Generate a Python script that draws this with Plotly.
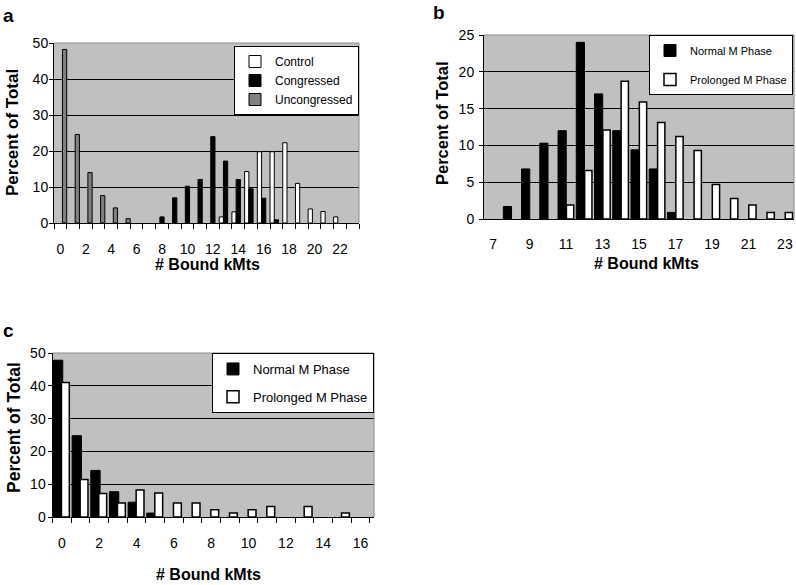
import plotly.graph_objects as go

# ---------------- data ----------------
# Panel a
a_control_bins = [13, 14, 15, 16, 17, 18, 19, 20, 21, 22]
a_control_pct = [1.7, 3.1, 14.3, 19.8, 19.8, 22.3, 11.0, 3.9, 3.2, 1.7]
a_congressed_bins = [8, 9, 10, 11, 12, 13, 14, 15, 16, 17]
a_congressed_pct = [1.7, 7.0, 10.2, 12.1, 24.0, 17.2, 12.1, 9.5, 6.9, 0.9]
a_uncongressed_bins = [0, 1, 2, 3, 4, 5]
a_uncongressed_pct = [48.2, 24.6, 14.0, 7.6, 4.2, 1.2]
a_ticks = list(range(0, 23, 2))

# Panel b
b_normal_bins = [8, 9, 10, 11, 12, 13, 14, 15, 16, 17]
b_normal_pct = [1.7, 6.8, 10.3, 12.0, 24.0, 17.0, 12.0, 9.4, 6.8, 0.9]
b_prolonged_bins = [11, 12, 13, 14, 15, 16, 17, 18, 19, 20, 21, 22, 23]
b_prolonged_pct = [1.9, 6.6, 12.1, 18.7, 15.9, 13.1, 11.2, 9.3, 4.7, 2.8, 1.9, 0.9, 0.9]
b_ticks = list(range(7, 24, 2))

# Panel c
c_normal_bins = [0, 1, 2, 3, 4, 5]
c_normal_pct = [47.8, 24.8, 14.2, 7.7, 4.5, 1.2]
c_prolonged_bins = [0, 1, 2, 3, 4, 5, 6, 7, 8, 9, 10, 11, 13, 15]
c_prolonged_pct = [41.0, 11.4, 7.2, 4.3, 8.2, 7.3, 4.3, 4.3, 2.2, 1.2, 2.2, 3.2, 3.2, 1.2]
c_ticks = list(range(0, 17, 2))

# ---------------- figure ----------------
FONT = "Liberation Sans, Arial, sans-serif"
BLACK = "#000000"
GRAYBAR = "#808080"
BG = "#c0c0c0"
W, H = 796, 585

def px(x):
    return x / W

def py(y):
    return 1 - y / H

fig = go.Figure()

line = dict(color=BLACK, width=1)

# panel a
fig.add_trace(go.Bar(x=a_control_bins, y=a_control_pct, name="Control",
                     marker=dict(color="white", line=line), offset=-0.5, width=1/3,
                     xaxis="x", yaxis="y", legend="legend"))
fig.add_trace(go.Bar(x=a_congressed_bins, y=a_congressed_pct, name="Congressed",
                     marker=dict(color=BLACK, line=line), offset=-1/6, width=1/3,
                     xaxis="x", yaxis="y", legend="legend"))
fig.add_trace(go.Bar(x=a_uncongressed_bins, y=a_uncongressed_pct, name="Uncongressed",
                     marker=dict(color=GRAYBAR, line=line), offset=1/6, width=1/3,
                     xaxis="x", yaxis="y", legend="legend"))

# panel b
fig.add_trace(go.Bar(x=b_normal_bins, y=b_normal_pct, name="Normal M Phase",
                     marker=dict(color=BLACK, line=line), offset=-0.44, width=0.45,
                     xaxis="x2", yaxis="y2", legend="legend2", legendgroup="bn"))
fig.add_trace(go.Bar(x=b_prolonged_bins, y=b_prolonged_pct, name="Prolonged M Phase",
                     marker=dict(color="white", line=dict(color=BLACK, width=1.5)), offset=0.02, width=0.4,
                     xaxis="x2", yaxis="y2", legend="legend2", legendgroup="bp"))

# panel c
fig.add_trace(go.Bar(x=c_normal_bins, y=c_normal_pct, name="Normal M Phase",
                     marker=dict(color=BLACK, line=line), offset=-0.45, width=0.5,
                     xaxis="x3", yaxis="y3", legend="legend3", legendgroup="cn"))
fig.add_trace(go.Bar(x=c_prolonged_bins, y=c_prolonged_pct, name="Prolonged M Phase",
                     marker=dict(color="white", line=dict(color=BLACK, width=1.5)), offset=-0.02, width=0.42,
                     xaxis="x3", yaxis="y3", legend="legend3", legendgroup="cp"))

tickfont = dict(family=FONT, size=14, color=BLACK)

def xaxis(domain, anchor, rng, tickvals, minor_vals, standoff):
    d = dict(domain=domain, anchor=anchor, range=rng, tickvals=tickvals,
             ticks="", showgrid=False, zeroline=False, showline=True,
             linecolor=BLACK, linewidth=1, tickfont=tickfont, fixedrange=True,
             ticklabelstandoff=standoff, automargin=False)
    if minor_vals is not None:
        d["minor"] = dict(tickvals=minor_vals, ticks="outside", ticklen=5,
                          tickcolor=BLACK, tickwidth=1, showgrid=False)
    return d

def yaxis(domain, anchor, rng, dtick, standoff):
    return dict(domain=domain, anchor=anchor, range=rng, dtick=dtick, tick0=0,
                ticks="outside", ticklen=4, tickcolor=BLACK, showgrid=True,
                gridcolor=BLACK, gridwidth=1, zeroline=False, showline=True,
                linecolor=BLACK, linewidth=1, tickfont=tickfont, fixedrange=True,
                ticklabelstandoff=standoff, automargin=False)

# geometry (pixels)
A = dict(l=54, r=359, t=43, b=223)
B = dict(l=484, r=794, t=35, b=219)
C = dict(l=52.5, r=374, t=353, b=517)

fig.update_layout(
    template="none",
    width=W, height=H,
    margin=dict(l=0, r=0, t=0, b=0, autoexpand=False),
    paper_bgcolor="white", plot_bgcolor=BG,
    barmode="overlay",
    font=dict(family=FONT, color=BLACK),
    xaxis=xaxis([px(A["l"]), px(A["r"])], "y", [-0.5, 23.5], a_ticks,
                [i - 0.5 for i in range(0, 25)], 13),
    yaxis=yaxis([py(A["b"]), py(A["t"])], "x", [0, 50], 10, -2),
    xaxis2=xaxis([px(B["l"]), px(B["r"])], "y2", [6.5, 23.5], b_ticks, None, 12),
    yaxis2=yaxis([py(B["b"]), py(B["t"])], "x2", [0, 25], 5, 2),
    xaxis3=xaxis([px(C["l"]), px(C["r"])], "y3", [-0.5, 16.72], c_ticks,
                 [i - 0.5 for i in range(0, 18)], 13),
    yaxis3=yaxis([py(C["b"]), py(C["t"])], "x3", [0, 50], 10, -1),
    legend=dict(x=px(359), y=py(46), xanchor="right", yanchor="top",
                bgcolor="white", bordercolor=BLACK, borderwidth=1,
                font=dict(family=FONT, size=12, color=BLACK), traceorder="normal"),
    legend2=dict(x=px(793), y=py(35), xanchor="right", yanchor="top",
                 bgcolor="white", bordercolor=BLACK, borderwidth=1,
                 font=dict(family=FONT, size=11, color=BLACK), traceorder="grouped",
                 tracegroupgap=10),
    legend3=dict(x=px(374), y=py(353), xanchor="right", yanchor="top",
                 bgcolor="white", bordercolor=BLACK, borderwidth=1,
                 font=dict(family=FONT, size=13, color=BLACK), traceorder="grouped",
                 tracegroupgap=8),
    showlegend=True,
)

# plot-area top/right border
shapes = []
for xs, ys in (("x", "y"), ("x2", "y2"), ("x3", "y3")):
    shapes.append(dict(type="line", xref=f"{xs} domain", yref=f"{ys} domain",
                       x0=0, x1=1, y0=1, y1=1, line=dict(color="#8c8c8c", width=1), layer="above"))
    shapes.append(dict(type="line", xref=f"{xs} domain", yref=f"{ys} domain",
                       x0=1, x1=1, y0=0, y1=1, line=dict(color="#8c8c8c", width=1), layer="above"))
fig.update_layout(shapes=shapes)

ann = []
def text(x, y, s, size, bold=True, angle=0):
    ann.append(dict(x=px(x), y=py(y), xref="paper", yref="paper", text=f"<b>{s}</b>" if bold else s,
                    showarrow=False, textangle=angle, xanchor="center", yanchor="middle",
                    font=dict(family=FONT, size=size, color=BLACK)))

text(8, 15, "a", 19)
text(439, 12, "b", 19)
text(8, 330, "c", 19)
text(13, 133, "Percent of Total", 17, angle=-90)
text(442, 124, "Percent of Total", 16.5, angle=-90)
text(14, 428, "Percent of Total", 17.5, angle=-90)
text(207, 265, "# Bound kMts", 16)
text(646, 263, "# Bound kMts", 16)
text(208, 574, "# Bound kMts", 16)
fig.update_layout(annotations=ann)

fig.write_html("out.html", config={"displayModeBar": False},
               post_script="document.body.style.margin='0';")
